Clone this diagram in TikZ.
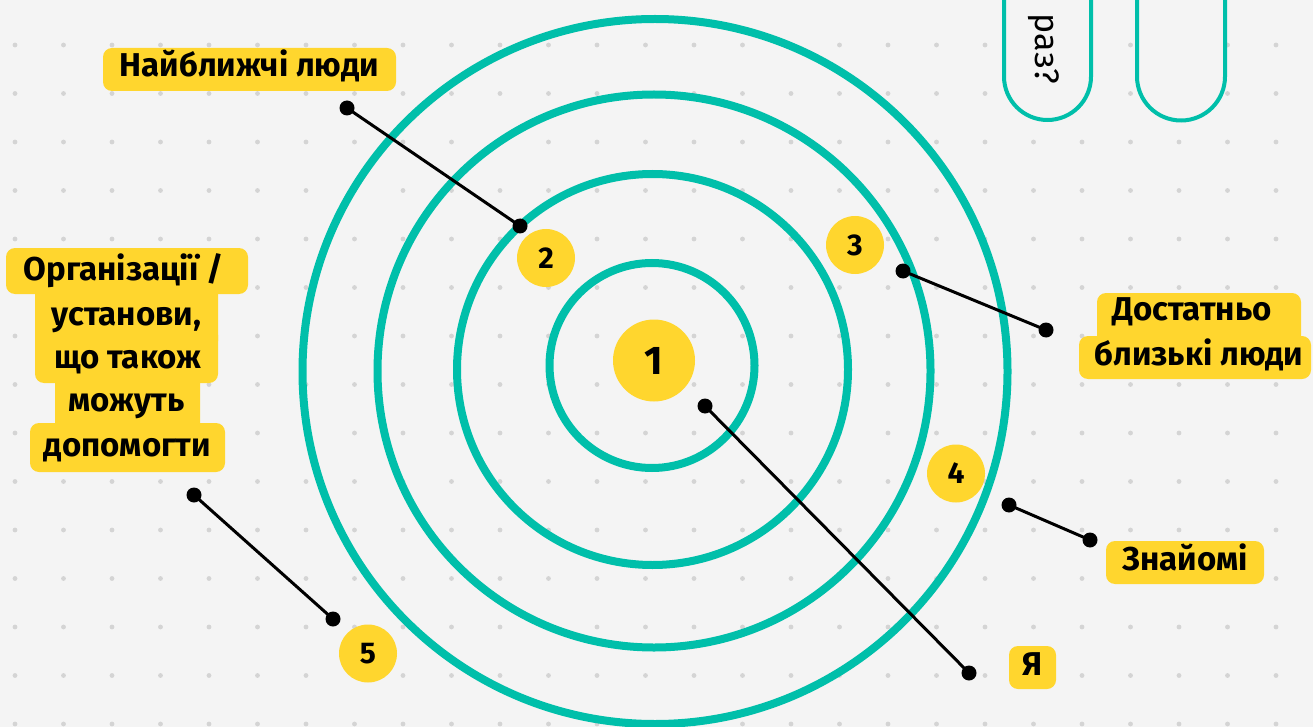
\documentclass[tikz,border=0pt]{standalone}
\usepackage{fontspec}
\setmainfont{Fira Sans}
\definecolor{bgc}{RGB}{244,244,244}
\definecolor{dotc}{RGB}{212,212,212}
\definecolor{tealc}{RGB}{0,191,170}
\definecolor{yel}{RGB}{255,214,46}
\tikzset{
  ring/.style={draw=tealc, line width=8pt},
  leader/.style={draw=black, line width=3pt},
  lab/.style={fill=yel, rounded corners=9pt, inner sep=0pt, text height=29pt, text depth=14pt, anchor=base, font=\fontsize{33}{33}\selectfont\bfseries},
  txt/.style={inner sep=0pt, anchor=base, font=\fontsize{33}{33}\selectfont\bfseries},
  badge/.style={circle, fill=yel, inner sep=0pt, minimum size=58pt, font=\fontsize{30}{30}\selectfont\bfseries},
  hl/.style={fill=yel, rounded corners=9pt},
  pill/.style={draw=tealc, fill=bgc, line width=4pt}
}
\begin{document}
\begin{tikzpicture}[x=1pt,y=-1pt]
\useasboundingbox (0,0) rectangle (1313,727);
\clip (0,0) rectangle (1313,727);
\fill[bgc] (0,0) rectangle (1313,727);
\foreach \i in {0,...,26} \foreach \j in {-1,...,14} \fill[dotc] ({15+48.5*\i},{45+48.5*\j}) circle (2.4pt);
% rings
\draw[ring] (652,365.5) circle (102.5pt);
\draw[ring] (652.5,369.5) circle (195.5pt);
\draw[ring] (654,371) circle (276.5pt);
\draw[ring] (655,371.5) circle (352.5pt);
% pills top right
\draw[pill] (1004,-10) -- (1004,76.5) arc[start angle=180, end angle=360, radius=43.5pt] -- (1091,-10);
\draw[pill] (1137,-10) -- (1137,76.5) arc[start angle=180, end angle=360, radius=44pt] -- (1225,-10);
\node[rotate=-90, anchor=base east, inner sep=0pt, font=\fontsize{34}{34}\selectfont] (q) at (1035,84) {раз?};
% badges
\node[badge, minimum size=82pt, font=\fontsize{40}{40}\selectfont\bfseries] (b1) at (654,360.5) {1};
\node[badge] (b2) at (546,258) {2};
\node[badge] (b3) at (855,245) {3};
\node[badge] (b4) at (956,473.5) {4};
\node[badge] (b5) at (368,653.5) {5};
% labels
\node[lab, minimum width=293pt] (near) at (249.5,77) {Найближчі люди};
\node[lab, minimum width=158pt] (zn) at (1185,570) {Знайомі};
\node[lab, minimum width=47pt] (ya) at (1032.5,675) {Я};
\fill[hl] (1097,293) rectangle (1301,350);
\fill[hl] (1079,336) rectangle (1311,379);
\node[txt] (dost1) at (1192,320) {Достатньо};
\node[txt] (dost2) at (1199,365) {близькі люди};
\fill[hl] (6,248) rectangle (248,294);
\fill[hl] (35,282) rectangle (218,350);
\fill[hl] (35,326) rectangle (218,383);
\fill[hl] (55,369) rectangle (200,437);
\fill[hl] (30,423) rectangle (225,472);
\node[txt] (org1) at (124,280) {Організації /};
\node[txt] (org2) at (126.5,325) {установи,};
\node[txt] (org3) at (128,368) {що також};
\node[txt] (org4) at (126.5,411) {можуть};
\node[txt] (org5) at (127.5,456) {допомогти};
% leaders
\coordinate (a1) at (347,108); \coordinate (a2) at (520,226);
\coordinate (c1) at (903,271); \coordinate (c2) at (1046,330);
\coordinate (d1) at (1009,505); \coordinate (d2) at (1090,540);
\coordinate (e1) at (705,406); \coordinate (e2) at (969,673);
\coordinate (f1) at (194,495); \coordinate (f2) at (333,619);
\foreach \p/\q in {a1/a2,c1/c2,d1/d2,e1/e2,f1/f2}{
  \draw[leader] (\p) -- (\q);
  \fill (\p) circle (7.5pt);
  \fill (\q) circle (7.5pt);
}
\end{tikzpicture}
\end{document}
